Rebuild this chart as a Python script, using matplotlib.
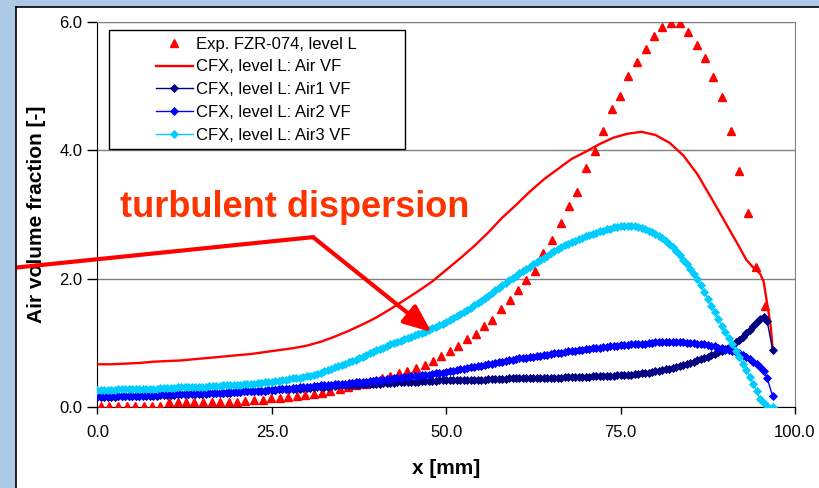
import matplotlib
matplotlib.use("Agg")
import matplotlib.pyplot as plt
from matplotlib.patches import Rectangle
from matplotlib.lines import Line2D

plt.rcParams['font.family'] = ['Liberation Sans', 'DejaVu Sans']

# experiment FZR-074, level L (triangles)
exp_x = [0.5, 1.7, 2.9, 4.2, 5.4, 6.6, 7.8, 9.0, 10.3, 11.5,
         12.7, 13.9, 15.1, 16.4, 17.6, 18.8, 20.0, 21.2, 22.5, 23.7,
         24.9, 26.1, 27.3, 28.6, 29.8, 31.0, 32.2, 33.4, 34.7, 35.9,
         37.1, 38.3, 39.5, 40.8, 42.0, 43.2, 44.4, 45.6, 46.9, 48.1,
         49.3, 50.5, 51.7, 53.0, 54.2, 55.4, 56.6, 57.8, 59.1, 60.3,
         61.5, 62.7, 63.9, 65.2, 66.4, 67.6, 68.8, 70.0, 71.3, 72.5,
         73.7, 74.9, 76.1, 77.4, 78.6, 79.8, 81.0, 82.2, 83.5, 84.7,
         85.9, 87.1, 88.3, 89.6, 90.8, 92.0, 93.2, 94.4, 95.7]
exp_y = [0.02, 0.02, 0.02, 0.02, 0.02, 0.02, 0.02, 0.02, 0.08, 0.08,
         0.08, 0.08, 0.08, 0.09, 0.09, 0.09, 0.09, 0.10, 0.11, 0.12,
         0.14, 0.15, 0.165, 0.18, 0.19, 0.21, 0.23, 0.26, 0.28, 0.31,
         0.35, 0.37, 0.41, 0.45, 0.49, 0.53, 0.57, 0.61, 0.66, 0.72,
         0.80, 0.87, 0.95, 1.06, 1.14, 1.27, 1.36, 1.53, 1.67, 1.82,
         1.99, 2.13, 2.40, 2.61, 2.87, 3.14, 3.36, 3.72, 3.99, 4.30,
         4.64, 4.85, 5.16, 5.37, 5.58, 5.78, 5.92, 5.98, 5.98, 5.85,
         5.64, 5.44, 5.14, 4.83, 4.30, 3.68, 3.03, 2.19, 1.58]

# CFX total air volume fraction (plain line)
air_x = [0, 2, 4, 6, 8, 10, 12, 14, 16, 18, 20, 22, 24, 26, 28, 30, 32, 34, 36, 38,
         40, 42, 44, 46, 48, 50, 52, 54, 56, 58, 60, 62, 64, 66, 68, 70, 72, 74, 76, 78,
         80, 82, 84, 86, 88, 90, 92, 93, 94, 95, 95.5, 96, 96.5, 96.8]
air_y = [0.67, 0.67, 0.68, 0.69, 0.71, 0.72, 0.73, 0.75, 0.77, 0.79,
         0.81, 0.83, 0.86, 0.89, 0.92, 0.96, 1.02, 1.10, 1.19, 1.29,
         1.40, 1.53, 1.67, 1.81, 1.96, 2.14, 2.32, 2.51, 2.72, 2.95,
         3.15, 3.36, 3.55, 3.71, 3.87, 3.98, 4.10, 4.20, 4.26, 4.29,
         4.24, 4.12, 3.92, 3.63, 3.26, 2.88, 2.50, 2.30, 2.18, 2.08,
         1.96, 1.62, 1.28, 0.90]

# CFX mesh positions shared by the three size groups
cfx_x = [0.0, 0.5, 1.0, 1.5, 2.0, 2.5, 3.0, 3.5, 4.0, 4.5,
         5.0, 5.5, 6.0, 6.5, 7.0, 7.5, 8.0, 8.5, 9.0, 9.5,
         10.0, 10.5, 11.0, 11.5, 12.0, 12.5, 13.0, 13.5, 14.0, 14.5,
         15.0, 15.5, 16.0, 16.5, 17.0, 17.5, 18.0, 18.5, 19.0, 19.5,
         20.0, 20.5, 21.0, 21.5, 22.0, 22.5, 23.0, 23.5, 24.0, 24.5,
         25.0, 25.5, 26.0, 26.5, 27.0, 27.5, 28.0, 28.5, 29.0, 29.5,
         30.0, 30.5, 31.0, 31.5, 32.0, 32.5, 33.0, 33.5, 34.0, 34.5,
         35.0, 35.5, 36.0, 36.5, 37.0, 37.5, 38.0, 38.5, 39.0, 39.5,
         40.0, 40.5, 41.0, 41.5, 42.0, 42.5, 43.0, 43.5, 44.0, 44.5,
         45.0, 45.5, 46.0, 46.5, 47.0, 47.5, 48.0, 48.5, 49.0, 49.5,
         50.0, 50.5, 51.0, 51.5, 52.0, 52.5, 53.0, 53.5, 54.0, 54.5,
         55.0, 55.5, 56.0, 56.5, 57.0, 57.5, 58.0, 58.5, 59.0, 59.5,
         60.0, 60.5, 61.0, 61.5, 62.0, 62.5, 63.0, 63.5, 64.0, 64.5,
         65.0, 65.5, 66.0, 66.5, 67.0, 67.5, 68.0, 68.5, 69.0, 69.5,
         70.0, 70.5, 71.0, 71.5, 72.0, 72.5, 73.0, 73.5, 74.0, 74.5,
         75.0, 75.5, 76.0, 76.5, 77.0, 77.5, 78.0, 78.5, 79.0, 79.5,
         80.0, 80.5, 81.0, 81.5, 82.0, 82.5, 83.0, 83.5, 84.0, 84.5,
         85.0, 85.5, 86.0, 86.5, 87.0, 87.5, 88.0, 88.5, 89.0, 89.5,
         90.0, 90.5, 91.0, 91.5, 92.0, 92.5, 93.0, 93.5, 94.0, 94.5,
         95.0, 95.5, 96.0, 96.8]
air1_y = [0.16, 0.16, 0.16, 0.16, 0.16, 0.16, 0.17, 0.17, 0.17, 0.17,
          0.17, 0.17, 0.17, 0.18, 0.18, 0.18, 0.18, 0.18, 0.19, 0.19,
          0.19, 0.19, 0.19, 0.20, 0.20, 0.20, 0.20, 0.21, 0.21, 0.21,
          0.21, 0.21, 0.22, 0.22, 0.22, 0.23, 0.23, 0.23, 0.23, 0.24,
          0.24, 0.24, 0.25, 0.25, 0.25, 0.25, 0.26, 0.26, 0.26, 0.27,
          0.27, 0.27, 0.28, 0.28, 0.28, 0.28, 0.29, 0.29, 0.29, 0.30,
          0.30, 0.30, 0.31, 0.31, 0.32, 0.32, 0.32, 0.33, 0.33, 0.34,
          0.34, 0.34, 0.35, 0.35, 0.35, 0.35, 0.36, 0.36, 0.36, 0.37,
          0.37, 0.37, 0.38, 0.38, 0.38, 0.38, 0.39, 0.39, 0.39, 0.40,
          0.40, 0.40, 0.40, 0.41, 0.41, 0.41, 0.41, 0.41, 0.42, 0.42,
          0.42, 0.42, 0.42, 0.42, 0.42, 0.43, 0.43, 0.43, 0.43, 0.43,
          0.43, 0.43, 0.44, 0.44, 0.44, 0.44, 0.44, 0.44, 0.45, 0.45,
          0.45, 0.45, 0.45, 0.45, 0.45, 0.46, 0.46, 0.46, 0.46, 0.46,
          0.46, 0.46, 0.46, 0.46, 0.47, 0.47, 0.47, 0.47, 0.47, 0.47,
          0.47, 0.47, 0.48, 0.48, 0.48, 0.48, 0.49, 0.49, 0.49, 0.50,
          0.50, 0.50, 0.51, 0.51, 0.52, 0.52, 0.53, 0.54, 0.54, 0.55,
          0.56, 0.57, 0.58, 0.59, 0.60, 0.61, 0.63, 0.64, 0.66, 0.67,
          0.69, 0.71, 0.73, 0.75, 0.77, 0.79, 0.81, 0.83, 0.86, 0.88,
          0.91, 0.94, 0.97, 1.01, 1.05, 1.10, 1.15, 1.21, 1.27, 1.33,
          1.38, 1.41, 1.35, 0.89]
air2_y = [0.17, 0.17, 0.17, 0.17, 0.17, 0.17, 0.18, 0.18, 0.18, 0.18,
          0.18, 0.18, 0.18, 0.19, 0.19, 0.19, 0.19, 0.19, 0.20, 0.20,
          0.20, 0.20, 0.20, 0.21, 0.21, 0.21, 0.21, 0.22, 0.22, 0.22,
          0.22, 0.22, 0.22, 0.23, 0.23, 0.23, 0.23, 0.24, 0.24, 0.24,
          0.24, 0.24, 0.25, 0.25, 0.25, 0.25, 0.26, 0.26, 0.26, 0.27,
          0.27, 0.27, 0.28, 0.28, 0.29, 0.29, 0.30, 0.30, 0.31, 0.31,
          0.32, 0.32, 0.33, 0.33, 0.34, 0.34, 0.35, 0.35, 0.36, 0.36,
          0.37, 0.37, 0.38, 0.38, 0.39, 0.39, 0.40, 0.40, 0.41, 0.41,
          0.42, 0.43, 0.43, 0.44, 0.44, 0.45, 0.46, 0.46, 0.47, 0.47,
          0.48, 0.49, 0.49, 0.50, 0.51, 0.51, 0.52, 0.53, 0.53, 0.54,
          0.55, 0.56, 0.57, 0.58, 0.59, 0.60, 0.61, 0.62, 0.63, 0.64,
          0.65, 0.66, 0.67, 0.68, 0.69, 0.70, 0.71, 0.72, 0.73, 0.74,
          0.75, 0.76, 0.77, 0.77, 0.78, 0.79, 0.80, 0.80, 0.81, 0.82,
          0.83, 0.84, 0.84, 0.85, 0.86, 0.87, 0.88, 0.88, 0.89, 0.90,
          0.91, 0.91, 0.92, 0.93, 0.93, 0.94, 0.94, 0.95, 0.95, 0.96,
          0.97, 0.97, 0.97, 0.98, 0.98, 0.99, 0.99, 0.99, 1.00, 1.00,
          1.01, 1.01, 1.01, 1.01, 1.01, 1.01, 1.01, 1.01, 1.01, 1.00,
          1.00, 1.00, 0.99, 0.99, 0.98, 0.97, 0.96, 0.95, 0.93, 0.92,
          0.90, 0.89, 0.88, 0.86, 0.84, 0.82, 0.79, 0.75, 0.71, 0.67,
          0.62, 0.56, 0.46, 0.17]
air3_y = [0.27, 0.27, 0.27, 0.27, 0.27, 0.27, 0.28, 0.28, 0.28, 0.28,
          0.28, 0.28, 0.28, 0.29, 0.29, 0.29, 0.29, 0.29, 0.30, 0.30,
          0.30, 0.30, 0.30, 0.31, 0.31, 0.31, 0.31, 0.31, 0.32, 0.32,
          0.32, 0.32, 0.33, 0.33, 0.33, 0.33, 0.34, 0.34, 0.34, 0.35,
          0.35, 0.35, 0.36, 0.36, 0.37, 0.37, 0.38, 0.38, 0.39, 0.39,
          0.40, 0.41, 0.41, 0.42, 0.43, 0.44, 0.45, 0.45, 0.46, 0.47,
          0.48, 0.49, 0.51, 0.52, 0.54, 0.56, 0.58, 0.60, 0.62, 0.64,
          0.66, 0.68, 0.70, 0.72, 0.74, 0.77, 0.79, 0.81, 0.84, 0.86,
          0.89, 0.91, 0.93, 0.96, 0.98, 1.00, 1.02, 1.04, 1.06, 1.08,
          1.10, 1.12, 1.14, 1.16, 1.18, 1.20, 1.23, 1.25, 1.28, 1.30,
          1.33, 1.36, 1.39, 1.42, 1.45, 1.48, 1.52, 1.55, 1.59, 1.63,
          1.66, 1.70, 1.74, 1.78, 1.82, 1.86, 1.90, 1.94, 1.98, 2.01,
          2.05, 2.09, 2.12, 2.16, 2.19, 2.23, 2.26, 2.30, 2.33, 2.36,
          2.40, 2.43, 2.46, 2.49, 2.52, 2.54, 2.57, 2.59, 2.62, 2.64,
          2.66, 2.68, 2.70, 2.72, 2.74, 2.75, 2.77, 2.78, 2.80, 2.81,
          2.82, 2.82, 2.83, 2.83, 2.82, 2.81, 2.79, 2.77, 2.75, 2.73,
          2.70, 2.67, 2.63, 2.59, 2.55, 2.50, 2.44, 2.37, 2.30, 2.23,
          2.15, 2.08, 2.00, 1.90, 1.80, 1.69, 1.58, 1.48, 1.37, 1.27,
          1.17, 1.08, 0.98, 0.88, 0.78, 0.68, 0.58, 0.47, 0.37, 0.25,
          0.13, 0.06, 0.02, 0.00]

labels = ['Exp. FZR-074, level L', 'CFX, level L: Air VF', 'CFX, level L: Air1 VF',
          'CFX, level L: Air2 VF', 'CFX, level L: Air3 VF']
x_ticks = [0, 25, 50, 75, 100]
x_ticklabels = ['0.0', '25.0', '50.0', '75.0', '100.0']
y_ticks = [0, 2, 4, 6]
y_ticklabels = ['0.0', '2.0', '4.0', '6.0']

W, H = 820, 488
fig = plt.figure(figsize=(W / 100, H / 100), dpi=100)
fig.patch.set_facecolor('white')

# slide background strips and chart-area border
slide_blue = '#acc9e6'
fig.patches.append(Rectangle((0, 0), 16 / W, 1, transform=fig.transFigure,
                             facecolor=slide_blue, edgecolor='none', zorder=0))
fig.patches.append(Rectangle((0, 1 - 7 / H), 1, 7 / H, transform=fig.transFigure,
                             facecolor=slide_blue, edgecolor='none', zorder=0))
fig.add_artist(Line2D([16 / W, 16 / W], [0, 1 - 7 / H], color='black', lw=1.2))
fig.add_artist(Line2D([16 / W, 1], [1 - 7 / H, 1 - 7 / H], color='black', lw=1.2))

ax = fig.add_axes([97.5 / W, 1 - 407.3 / H, 697.5 / W, 385.3 / H])

ax.plot(exp_x, exp_y, linestyle='none', marker='^', markersize=5.6,
        color='#ff0000', label=labels[0], zorder=3)
ax.plot(air_x, air_y, color='#ff0000', lw=1.7, label=labels[1], zorder=4)
ax.plot(cfx_x, air1_y, color='#000080', lw=1.0, marker='D', markersize=4.2,
        markeredgewidth=0.6, label=labels[2], zorder=5)
ax.plot(cfx_x, air2_y, color='#0000ff', lw=1.0, marker='D', markersize=4.2,
        markeredgewidth=0.6, label=labels[3], zorder=6)
ax.plot(cfx_x, air3_y, color='#00ccff', lw=1.0, marker='D', markersize=4.2,
        markeredgewidth=0.6, label=labels[4], zorder=7)

ax.set_xlim(0, 100)
ax.set_ylim(0, 6)
ax.set_xticks(x_ticks)
ax.set_xticklabels(x_ticklabels)
ax.set_yticks(y_ticks)
ax.set_yticklabels(y_ticklabels)
ax.tick_params(axis='x', direction='out', length=5, width=1, pad=8, labelsize=12)
ax.tick_params(axis='y', direction='out', length=7, width=1, pad=4, labelsize=12)

for side in ['left', 'bottom']:
    ax.spines[side].set_color('black')
for side in ['top', 'right']:
    ax.spines[side].set_color('#808080')
ax.grid(axis='y', color='#808080', lw=1)
ax.set_axisbelow(True)

ax.set_xlabel('x [mm]', fontsize=15, fontweight='bold', va='center')
ax.xaxis.set_label_coords(0.5, (407.3 - 469) / 385.3)
ax.set_ylabel('Air volume fraction [-]', fontsize=15, fontweight='bold', va='center')
ax.yaxis.set_label_coords((37 - 97.5) / 697.5, 0.5)

# legend with an Excel-like plain box
ax.add_patch(Rectangle((0.0165, 0.6704), 0.4244, 0.3089, transform=ax.transAxes,
                       facecolor='white', edgecolor='black', lw=1, zorder=8))
leg = ax.legend(loc='upper left', bbox_to_anchor=((156 - 97.5) / 697.5, 0.962),
                frameon=False, borderpad=0, borderaxespad=0, fontsize=12,
                handlelength=2.2, handletextpad=0.2, labelspacing=0.47, numpoints=1)
leg.set_zorder(9)

# annotation
ax.text(28.3, 2.97, 'turbulent dispersion', color='#ff3300', fontsize=26,
        fontweight='bold', ha='center', va='baseline', zorder=10)
ax.plot([-14.0, 30.9], [2.15, 2.65], color='#ff0000', lw=3, clip_on=False,
        solid_capstyle='round', zorder=10)
ax.annotate('', xy=(47.9, 1.17), xytext=(30.9, 2.65), annotation_clip=False,
            arrowprops=dict(arrowstyle='-|>,head_length=1.7,head_width=0.7',
                            color='#ff0000', lw=3, shrinkA=0, shrinkB=0),
            zorder=10)

fig.savefig('out.png', dpi=100)
